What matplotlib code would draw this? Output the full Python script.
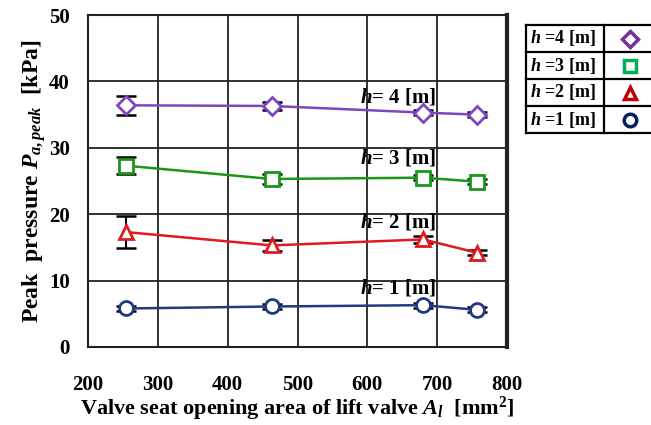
import matplotlib.pyplot as plt
import numpy as np

plt.rcParams['font.family'] = 'Liberation Serif'
plt.rcParams['font.weight'] = 'bold'
plt.rcParams['axes.labelweight'] = 'bold'
plt.rcParams['mathtext.fontset'] = 'custom'
plt.rcParams['mathtext.rm'] = 'Liberation Serif:bold'
plt.rcParams['mathtext.it'] = 'Liberation Serif:italic:bold'
plt.rcParams['mathtext.bf'] = 'Liberation Serif:bold'

# ========== Data ==========
area = [255, 463, 680, 757]
p_h4 = [36.4, 36.3, 35.3, 35.0]
e_h4 = [1.4, 0.6, 0.4, 0.4]
p_h3 = [27.3, 25.3, 25.5, 24.9]
e_h3 = [1.3, 0.8, 0.4, 0.4]
p_h2 = [17.3, 15.3, 16.2, 14.2]
e_h2 = [2.4, 0.8, 0.5, 0.4]
p_h1 = [5.8, 6.1, 6.3, 5.6]
e_h1 = [0.4, 0.4, 0.4, 0.4]
x_ticks = [200, 300, 400, 500, 600, 700, 800]
y_ticks = [0, 10, 20, 30, 40, 50]

series = [
    ('4', p_h4, e_h4, 'D', '#7F45C0', '#7030A0', 37.6),
    ('3', p_h3, e_h3, 's', '#1A961A', '#00B050', 28.4),
    ('2', p_h2, e_h2, '^', '#E01A1E', '#C00000', 18.8),
    ('1', p_h1, e_h1, 'o', '#1F3A80', '#002060', 8.9),
]

fig = plt.figure(figsize=(6.51, 4.25), dpi=100)
ax = fig.add_axes([88/651, 78/425, 419/651, 332/425])

for h, p, e, mk, col, lcol, ty in series:
    ax.errorbar(area, p, yerr=e, fmt='none', ecolor='black', elinewidth=1.5,
                capsize=7, capthick=1.8, zorder=3)
    ms = 9 if mk == 'D' else 10
    ax.plot(area, p, color=col, linewidth=1.8, marker=mk, markersize=ms,
            markerfacecolor='white', markeredgecolor=col, markeredgewidth=2, zorder=4)
    ax.text(590, ty, '$h$= %s [m]' % h, fontsize=15, ha='left', va='center', zorder=5)

ax.set_xlim(200, 800)
ax.set_ylim(0, 50)
ax.set_xticks(x_ticks, labels=[str(t) for t in x_ticks], fontweight='bold', fontsize=15)
ax.set_yticks(y_ticks, labels=[str(t) for t in y_ticks], fontweight='bold', fontsize=15)
ax.grid(True, color='#222222', linewidth=1.3)
ax.set_axisbelow(True)
ax.tick_params(axis='both', length=0)
ax.tick_params(axis='x', pad=20)
ax.tick_params(axis='y', pad=13)
for s in ['left', 'bottom', 'top']:
    ax.spines[s].set_linewidth(1.5)
    ax.spines[s].set_color('#222222')
ax.spines['right'].set_linewidth(3)
ax.spines['right'].set_color('#222222')

ax.set_xlabel('Valve seat opening area of lift valve $A_l$  [mm$^2$]', fontsize=16, labelpad=0)
ax.set_ylabel('Peak  pressure $P_{a,peak}$  [kPa]', fontsize=17, labelpad=1)

# ========== Legend table ==========
lax = fig.add_axes([526/651, (425-133)/425, 140/651, 108/425])
lax.set_xlim(0, 140)
lax.set_ylim(0, 108)
lax.axis('off')
row_h = 108 / 4
lw = 1.6
lax.plot([0, 140], [0, 0], color='black', linewidth=lw, clip_on=False)
lax.plot([0, 140], [108, 108], color='black', linewidth=lw, clip_on=False)
lax.plot([0, 0], [0, 108], color='black', linewidth=lw, clip_on=False)
lax.plot([78, 78], [0, 108], color='black', linewidth=lw, clip_on=False)
for i in range(1, 4):
    lax.plot([0, 140], [i * row_h, i * row_h], color='black', linewidth=lw, clip_on=False)
for i, (h, p, e, mk, col, lcol, ty) in enumerate(series):
    yc = 108 - (i + 0.5) * row_h
    lax.text(4, yc, '$h$ =%s [m]' % h, fontsize=13, ha='left', va='center')
    ms = 8 if mk == 'D' else 9
    lax.plot([104], [yc], marker=mk, markersize=ms, markerfacecolor='white',
             markeredgecolor=lcol, markeredgewidth=2.5, clip_on=False)

plt.savefig('out.png', dpi=100)
